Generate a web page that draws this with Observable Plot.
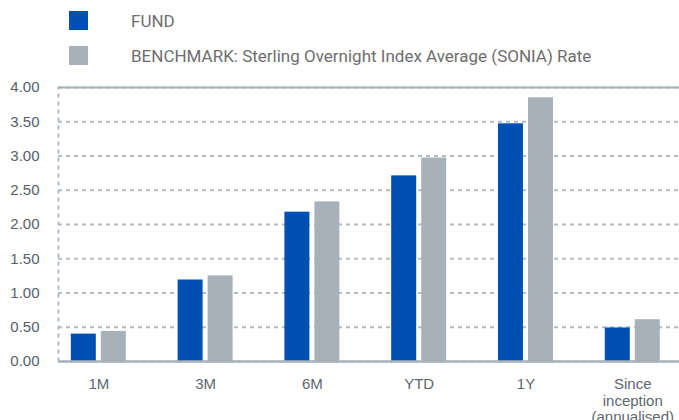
<!DOCTYPE html>
<html>
<head>
<meta charset="utf-8">
<script src="https://cdn.jsdelivr.net/npm/d3@7"></script>
<script src="https://cdn.jsdelivr.net/npm/@observablehq/plot@0.6"></script>
<style>
  html, body { margin: 0; padding: 0; background: #fff; overflow: hidden; }
  #wrap { position: relative; width: 679px; height: 420px; }
  #legend { position: relative; height: 75px; width: 679px; font-family: "Roboto", sans-serif; font-size: 17px; color: #6e6e6e; }
  .item { position: absolute; left: 69px; display: flex; align-items: center; height: 19px; }
  .sw { width: 19px; height: 19px; margin-right: 43px; }
  #chart svg { display: block; }
</style>
</head>
<body>
<div id="wrap">
  <div id="legend"></div>
  <div id="chart"></div>
</div>
<script>
const categories = ["1M", "3M", "6M", "YTD", "1Y", "Since\ninception\n(annualised)"];
const fund = [0.40, 1.19, 2.18, 2.71, 3.47, 0.49];
const benchmark = [0.44, 1.25, 2.33, 2.97, 3.85, 0.61];
const seriesNames = ["FUND", "BENCHMARK: Sterling Overnight Index Average (SONIA) Rate"];
const seriesColors = ["#0050b4", "#a7b1ba"];
const yTicks = [0, 0.5, 1, 1.5, 2, 2.5, 3, 3.5, 4];

const fundRows = categories.map((c, i) => ({cat: c, value: fund[i]}));
const benchRows = categories.map((c, i) => ({cat: c, value: benchmark[i]}));

// legend
const legend = document.getElementById("legend");
seriesNames.forEach((name, i) => {
  const item = document.createElement("div");
  item.className = "item";
  item.style.top = (i === 0 ? 11 : 46) + "px";
  const sw = document.createElement("div");
  sw.className = "sw";
  sw.style.background = seriesColors[i];
  const tx = document.createElement("span");
  tx.textContent = name;
  item.appendChild(sw);
  item.appendChild(tx);
  legend.appendChild(item);
});

const gridColor = "#b3bcc4";
const axisColor = "#a7b1ba";

const chart = Plot.plot({
  width: 679,
  height: 345,
  marginLeft: 58,
  marginRight: 0,
  marginTop: 12,
  marginBottom: 59,
  style: {fontFamily: "'Liberation Sans', Arial, sans-serif", fontSize: "15px", color: "#55606a", background: "transparent"},
  x: {domain: categories, paddingInner: 0.485, paddingOuter: 0.15, align: 0.4, round: false, label: null},
  y: {domain: [0, 4], label: null},
  marks: [
    Plot.frame({stroke: gridColor, strokeWidth: 2, strokeDasharray: "4,4", insetRight: -6}),
    Plot.gridY(yTicks.filter(d => d > 0 && d < 4), {stroke: gridColor, strokeOpacity: 1, strokeWidth: 2, strokeDasharray: "4,4"}),
    Plot.ruleY([4], {stroke: axisColor, strokeWidth: 2}),
    Plot.barY(fundRows, {x: "cat", y: "value", fill: seriesColors[0], insetRight: 30}),
    Plot.barY(benchRows, {x: "cat", y: "value", fill: seriesColors[1], insetLeft: 30}),
    Plot.ruleY([0], {stroke: axisColor, strokeWidth: 2.5}),
    Plot.axisY(yTicks, {tickSize: 0, tickPadding: 19, tickFormat: d3.format(".2f"), label: null, fill: "#55606a"}),
    Plot.axisX({tickSize: 0, tickPadding: 16, label: null, lineHeight: 1.1, fill: "#5d6770"})
  ]
});
document.getElementById("chart").appendChild(chart);
</script>
</body>
</html>
